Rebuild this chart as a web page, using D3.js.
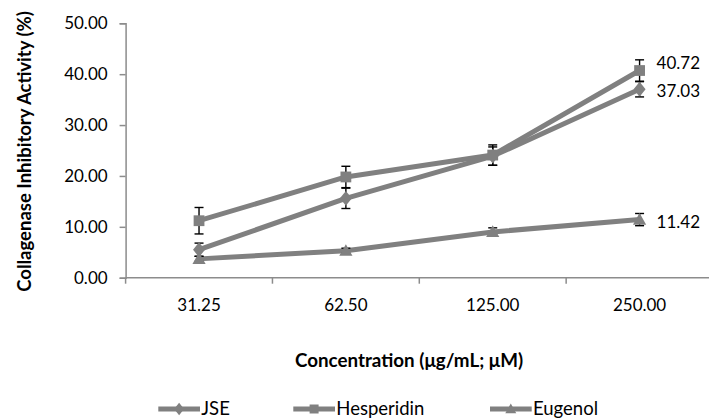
<!DOCTYPE html>
<html>
<head>
<meta charset="utf-8">
<script src="https://cdn.jsdelivr.net/npm/d3@7"></script>
<style>
  html, body { margin: 0; padding: 0; background: #fff; }
  svg { display: block; font-family: Lato, "Open Sans", sans-serif; }
</style>
</head>
<body>
<svg id="chart" width="709" height="420"></svg>
<script>
const categories = ["31.25", "62.50", "125.00", "250.00"];
const jseValues = [5.5, 15.6, 23.9, 37.03];
const jseErrors = [1.3, 2.0, 1.8, 1.5];
const hesperidinValues = [11.2, 19.8, 24.1, 40.72];
const hesperidinErrors = [2.6, 2.1, 2.0, 2.1];
const eugenolValues = [3.7, 5.3, 9.0, 11.42];
const eugenolErrors = [0.5, 0.5, 0.8, 1.2];
const yTicks = [0, 10, 20, 30, 40, 50];
const seriesNames = ["JSE", "Hesperidin", "Eugenol"];
const lastLabels = ["37.03", "40.72", "11.42"];

const series = [
  { name: seriesNames[0], values: jseValues, errors: jseErrors, marker: "diamond", label: lastLabels[0] },
  { name: seriesNames[1], values: hesperidinValues, errors: hesperidinErrors, marker: "square", label: lastLabels[1] },
  { name: seriesNames[2], values: eugenolValues, errors: eugenolErrors, marker: "triangle", label: lastLabels[2] }
];

const svg = d3.select("#chart");
const gray = "#808080";
const axisGray = "#8c8c8c";

const x = d3.scaleBand().domain(categories).range([125.6, 713]).paddingInner(0).paddingOuter(0);
const y = d3.scaleLinear().domain([0, 50]).range([277.7, 23.3]);

// Y axis
const yAxis = d3.axisLeft(y).tickValues(yTicks).tickFormat(d3.format(".2f")).tickSizeOuter(0).tickSize(6).tickPadding(12);
const gy = svg.append("g").attr("transform", "translate(125.6,0)").call(yAxis);
gy.select(".domain").attr("stroke", axisGray).attr("stroke-width", 1.5);
gy.selectAll(".tick line").attr("stroke", axisGray).attr("stroke-width", 1.5);
gy.selectAll(".tick text").attr("fill", "#000").style("font-size", "17px").style("font-family", "Lato, sans-serif");

// X axis
const gx = svg.append("g").attr("transform", "translate(0,277.7)");
gx.append("line").attr("x1", 125.6).attr("x2", 713).attr("y1", 0).attr("y2", 0)
  .attr("stroke", axisGray).attr("stroke-width", 1.5);
const bounds = categories.map(c => x(c));
gx.selectAll("line.xt").data(bounds).enter().append("line").attr("class", "xt")
  .attr("x1", d => d).attr("x2", d => d).attr("y1", 0).attr("y2", 6)
  .attr("stroke", axisGray).attr("stroke-width", 1.5);
gx.selectAll("text.xl").data(categories).enter().append("text").attr("class", "xl")
  .attr("x", d => x(d) + x.bandwidth() / 2).attr("y", 33)
  .attr("text-anchor", "middle").style("font-size", "17px").text(d => d);

const cx = c => x(c) + x.bandwidth() / 2;

// Lines
const line = d3.line().x((d, i) => cx(categories[i])).y(d => y(d));
series.forEach(s => {
  svg.append("path").datum(s.values).attr("d", line)
    .attr("fill", "none").attr("stroke", gray).attr("stroke-width", 5).attr("stroke-linejoin", "round");
});

// Error bars
series.forEach(s => {
  const g = svg.append("g").attr("stroke", "#000").attr("stroke-width", 1.4);
  s.values.forEach((v, i) => {
    const px = cx(categories[i]);
    const e = s.errors[i];
    g.append("line").attr("x1", px).attr("x2", px).attr("y1", y(v + e)).attr("y2", y(v - e));
    g.append("line").attr("x1", px - 4.5).attr("x2", px + 4.5).attr("y1", y(v + e)).attr("y2", y(v + e));
    g.append("line").attr("x1", px - 4.5).attr("x2", px + 4.5).attr("y1", y(v - e)).attr("y2", y(v - e));
  });
});

// Markers
function markerPath(type, s) {
  if (type === "diamond") return `M0,${-s*0.62}L${s*0.5},0L0,${s*0.62}L${-s*0.5},0Z`;
  if (type === "square") return `M${-s*0.45},${-s*0.45}H${s*0.45}V${s*0.45}H${-s*0.45}Z`;
  return `M0,${-s*0.55}L${s*0.55},${s*0.42}H${-s*0.55}Z`;
}
series.forEach(s => {
  svg.append("g").selectAll("path").data(s.values).enter().append("path")
    .attr("d", markerPath(s.marker, 12))
    .attr("transform", (d, i) => `translate(${cx(categories[i])},${y(d)})`)
    .attr("fill", gray);
});

// Data labels at last point
const labelDy = [1.5, -7, 2];
series.forEach((s, k) => {
  const last = s.values.length - 1;
  svg.append("text").attr("x", cx(categories[last]) + 17).attr("y", y(s.values[last]) + labelDy[k])
    .attr("dy", "0.35em").style("font-size", "17px").text(s.label);
});

// Axis titles
svg.append("text").attr("x", 409).attr("y", 367).attr("text-anchor", "middle")
  .style("font-size", "18.8px").style("font-weight", "bold").text("Concentration (μg/mL; μM)");
svg.append("text").attr("transform", "translate(31,151.5) rotate(-90)").attr("text-anchor", "middle")
  .style("font-size", "18.5px").style("font-weight", "bold").text("Collagenase Inhibitory Activity (%)");

// Legend
const legendX = [158.3, 293.3, 490];
const legendY = 409;
series.forEach((s, k) => {
  const g = svg.append("g").attr("transform", `translate(${legendX[k]},${legendY})`);
  g.append("line").attr("x1", 0).attr("x2", 41.7).attr("y1", 0).attr("y2", 0)
    .attr("stroke", gray).attr("stroke-width", 5);
  g.append("path").attr("d", markerPath(s.marker, 10)).attr("transform", "translate(20.8,0)").attr("fill", gray);
  g.append("text").attr("x", 43).attr("y", 0).attr("dy", "0.35em").style("font-size", "18.5px").text(s.name);
});
</script>
</body>
</html>
